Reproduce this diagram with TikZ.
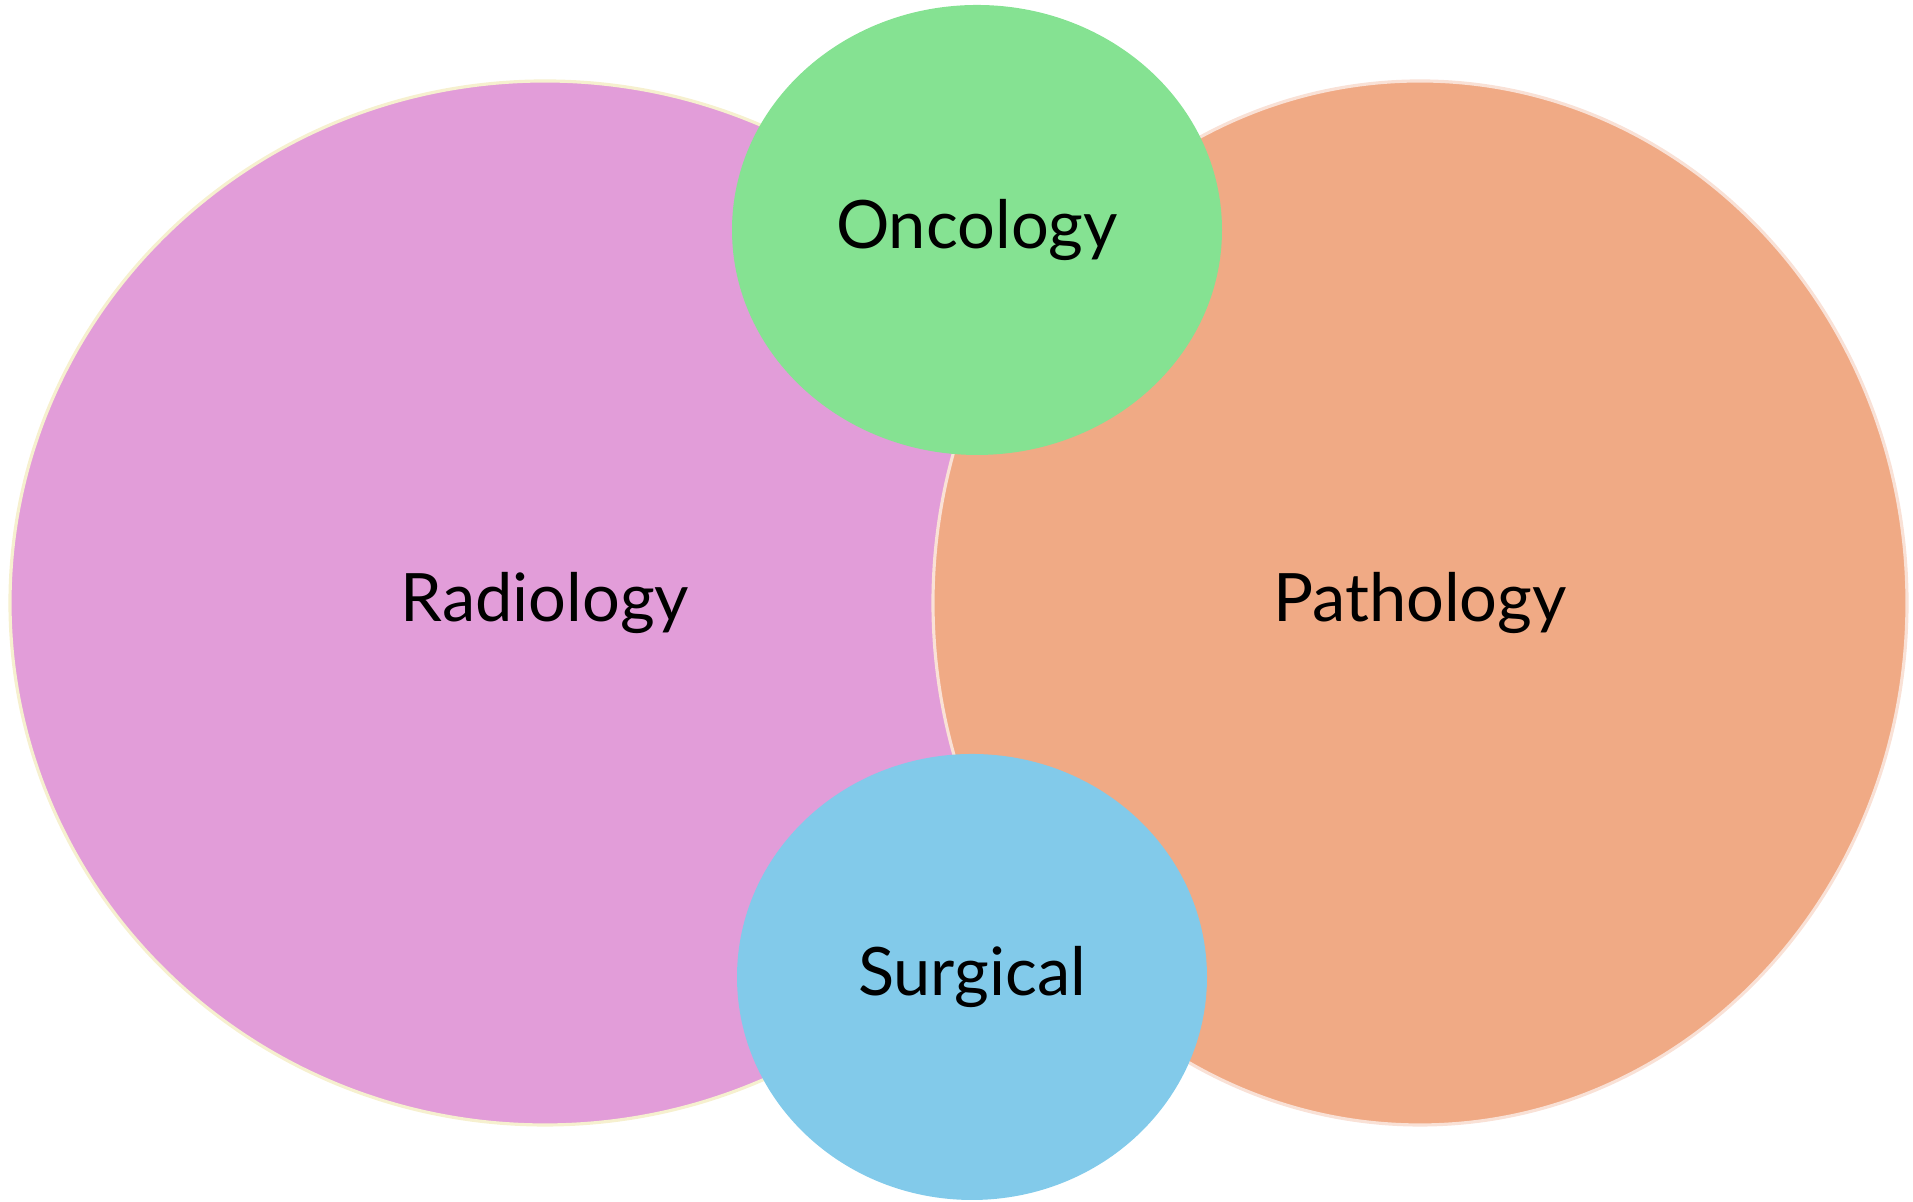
\documentclass[tikz,border=0pt]{standalone}
\usepackage{fontspec}
\setmainfont{Lato}
\usetikzlibrary{shapes.geometric}

\definecolor{radpink}{HTML}{E29DD9}
\definecolor{radedge}{HTML}{F6F0CF}
\definecolor{pathorange}{HTML}{F0AA85}
\definecolor{pathedge}{HTML}{F9E1D6}
\definecolor{oncgreen}{HTML}{85E292}
\definecolor{surgblue}{HTML}{82CAEA}

\begin{document}
\begin{tikzpicture}[every node/.style={font=\fontsize{19}{23}\selectfont},
  field/.style={ellipse, inner sep=0pt}]
	\useasboundingbox (0,0) rectangle (19.13,12.02);
	\node[field, fill=radpink, draw=radedge, line width=0.9pt, minimum width=10.7cm, minimum height=10.44cm] (radiology) at (5.45,5.99) {Radiology};
	\node[field, fill=pathorange, draw=pathedge, line width=0.9pt, minimum width=9.74cm, minimum height=10.44cm] (pathology) at (14.20,5.99) {Pathology};
	\node[field, fill=oncgreen, minimum width=4.9cm, minimum height=4.5cm] (oncology) at (9.77,9.72) {Oncology};
	\node[field, fill=surgblue, minimum width=4.7cm, minimum height=4.46cm] (surgical) at (9.72,2.25) {Surgical};
\end{tikzpicture}
\end{document}
